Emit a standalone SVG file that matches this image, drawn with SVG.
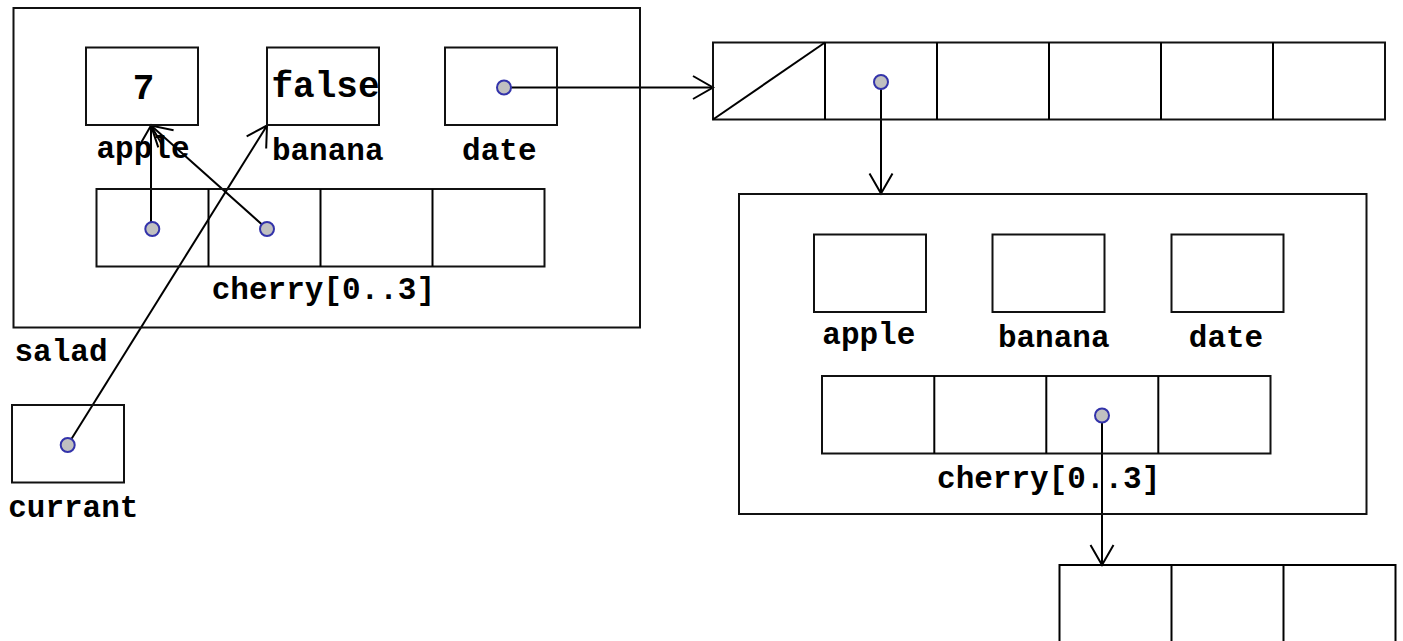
<svg xmlns="http://www.w3.org/2000/svg" width="1403" height="641" viewBox="0 0 1403 641">
<style>
  .box { fill: none; stroke: #111; stroke-width: 2; }
  .ln { fill: none; stroke: #000; stroke-width: 2; }
  .arr { fill: none; stroke: #000; stroke-width: 2; marker-end: url(#vee); }
  .dot { fill: #c0c0c0; stroke: #3333aa; stroke-width: 2; }
  .lbl { font-family: "Liberation Mono", "Courier New", monospace; font-weight: bold; font-size: 31px; fill: #000; text-anchor: middle; }
  .val { font-family: "Liberation Mono", "Courier New", monospace; font-weight: bold; font-size: 36px; fill: #000; text-anchor: middle; }
</style>
<defs>
  <marker id="vee" markerUnits="userSpaceOnUse" markerWidth="40" markerHeight="40" viewBox="-30 -20 40 40" refX="0" refY="0" orient="auto" overflow="visible">
    <path d="M -20 -11.5 L 0 0 L -20 11.5" fill="none" stroke="#000" stroke-width="2"/>
  </marker>
</defs>
<rect width="1403" height="641" fill="#fff"/>

<g id="connectors">
  <line class="arr" x1="67.7" y1="445" x2="267" y2="125.5"/>
  <line class="arr" x1="151" y1="229" x2="151" y2="125.5"/>
  <line class="arr" x1="267" y1="229" x2="151" y2="125.5"/>
  <line class="arr" x1="504" y1="87.5" x2="713" y2="87.5"/>
  <line class="arr" x1="881" y1="82" x2="881" y2="193.5"/>
  <line class="arr" x1="1102" y1="415.5" x2="1102" y2="565"/>
</g>

<g id="salad">
  <rect class="box" x="13.5" y="8" width="626.5" height="319.5"/>
  <text class="lbl" x="61" y="361">salad</text>
</g>
<g id="salad-apple">
  <rect class="box" x="86" y="47.5" width="112" height="77.5"/>
  <text class="val" x="143.6" y="99">7</text>
  <text class="lbl" x="143" y="158">apple</text>
</g>
<g id="salad-banana">
  <rect class="box" x="267" y="47.5" width="112" height="77.5"/>
  <text class="val" x="325.5" y="97">false</text>
  <text class="lbl" x="327.7" y="160">banana</text>
</g>
<g id="salad-date">
  <rect class="box" x="445" y="47.5" width="112" height="77.5"/>
  <circle class="dot" cx="504" cy="87.5" r="7"/>
  <text class="lbl" x="499.3" y="160">date</text>
</g>
<g id="salad-cherry">
  <rect class="box" x="96.5" y="189" width="448" height="77.5"/>
  <line class="ln" x1="208.5" y1="189" x2="208.5" y2="266.5"/>
  <line class="ln" x1="320.5" y1="189" x2="320.5" y2="266.5"/>
  <line class="ln" x1="432.5" y1="189" x2="432.5" y2="266.5"/>
  <circle class="dot" cx="152.3" cy="229" r="7"/>
  <circle class="dot" cx="267" cy="229" r="7"/>
  <text class="lbl" x="323.4" y="299">cherry[0..3]</text>
</g>

<g id="currant">
  <rect class="box" x="12" y="405" width="112" height="77.5"/>
  <circle class="dot" cx="67.7" cy="445" r="7"/>
  <text class="lbl" x="73.3" y="517">currant</text>
</g>

<g id="array-top">
  <rect class="box" x="713" y="42.5" width="672" height="77"/>
  <line class="ln" x1="825" y1="42.5" x2="825" y2="119.5"/>
  <line class="ln" x1="937" y1="42.5" x2="937" y2="119.5"/>
  <line class="ln" x1="1049" y1="42.5" x2="1049" y2="119.5"/>
  <line class="ln" x1="1161" y1="42.5" x2="1161" y2="119.5"/>
  <line class="ln" x1="1273" y1="42.5" x2="1273" y2="119.5"/>
  <line class="ln" x1="713" y1="119.5" x2="825" y2="42.5"/>
  <circle class="dot" cx="881" cy="82" r="7"/>
</g>

<g id="object2">
  <rect class="box" x="739" y="194" width="627.5" height="320"/>
</g>
<g id="object2-apple">
  <rect class="box" x="814" y="234.5" width="112" height="77.5"/>
  <text class="lbl" x="868.8" y="344">apple</text>
</g>
<g id="object2-banana">
  <rect class="box" x="992.5" y="234.5" width="112" height="77.5"/>
  <text class="lbl" x="1053.7" y="347">banana</text>
</g>
<g id="object2-date">
  <rect class="box" x="1171.5" y="234.5" width="112" height="77.5"/>
  <text class="lbl" x="1226" y="347">date</text>
</g>
<g id="object2-cherry">
  <rect class="box" x="822" y="376" width="448.5" height="77.5"/>
  <line class="ln" x1="934.3" y1="376" x2="934.3" y2="453.5"/>
  <line class="ln" x1="1046.3" y1="376" x2="1046.3" y2="453.5"/>
  <line class="ln" x1="1158.3" y1="376" x2="1158.3" y2="453.5"/>
  <circle class="dot" cx="1102" cy="415.5" r="7"/>
  <text class="lbl" x="1048.7" y="488">cherry[0..3]</text>
</g>

<g id="array-bottom">
  <path class="ln" d="M 1059.5 645 L 1059.5 565 L 1395.5 565 L 1395.5 645"/>
  <line class="ln" x1="1171.5" y1="565" x2="1171.5" y2="645"/>
  <line class="ln" x1="1283.5" y1="565" x2="1283.5" y2="645"/>
</g>
</svg>
